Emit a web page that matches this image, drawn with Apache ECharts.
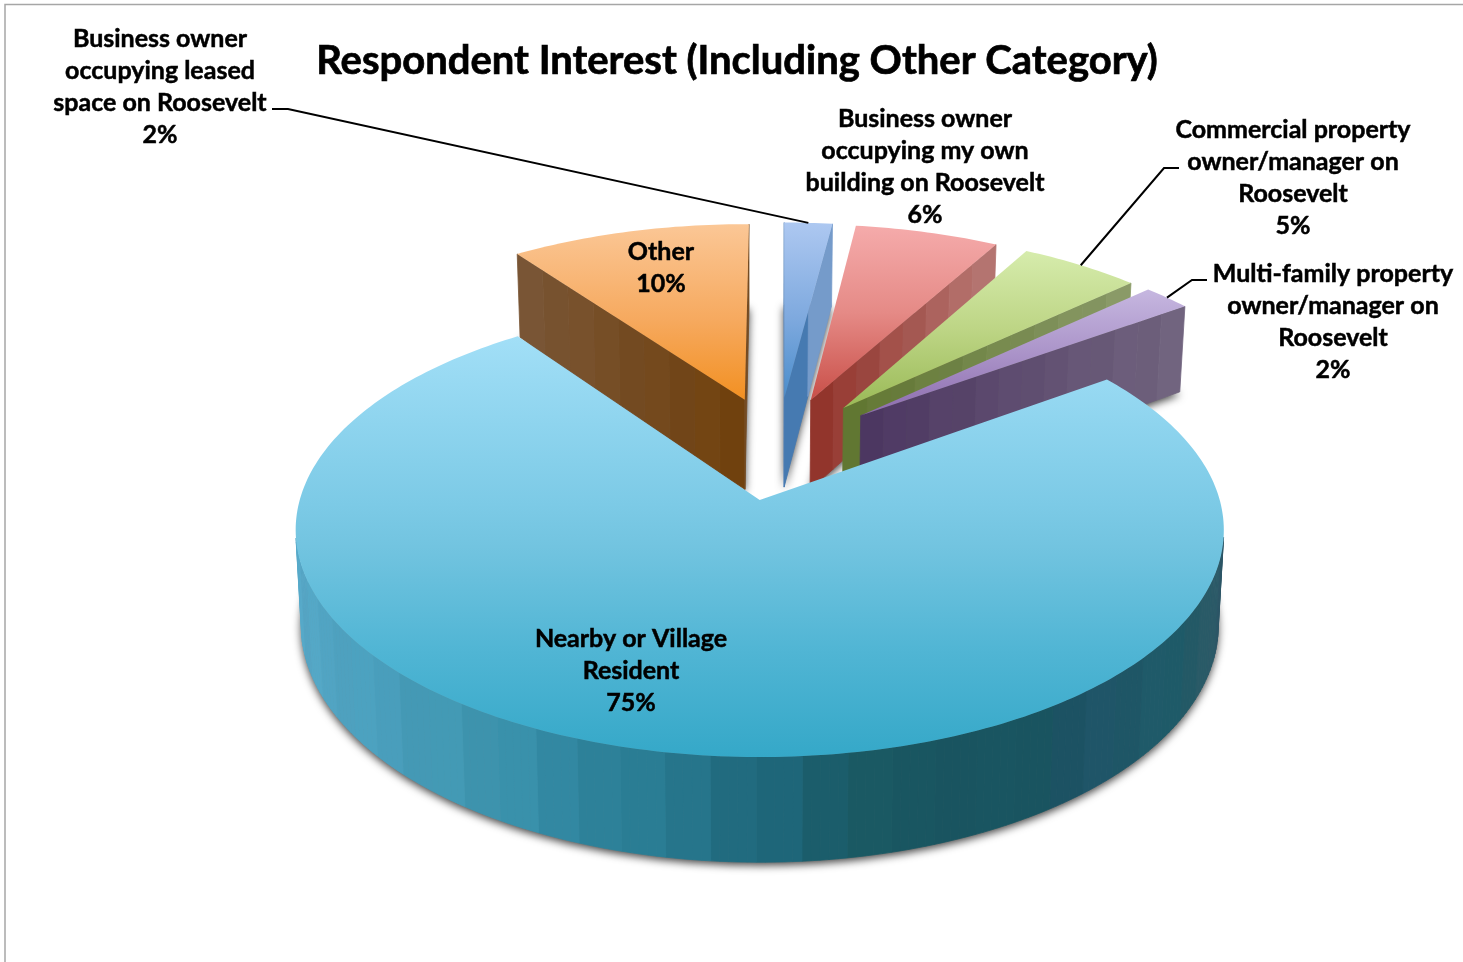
<!DOCTYPE html>
<html>
<head>
<meta charset="utf-8">
<title>Respondent Interest</title>
<style>html,body{margin:0;padding:0;background:#fff}#chart{width:1463px;height:962px}</style>
<script src="https://cdn.jsdelivr.net/npm/echarts@6/dist/echarts.min.js"></script>
</head>
<body>
<div id="chart"></div>
<script>
// Survey shares, listed clockwise from the "Other" wedge, which also gives back-to-front paint order.
const chartTitle = 'Respondent Interest (Including Other Category)';
const categories = [
  'Other',
  'Business owner\noccupying leased\nspace on Roosevelt',
  'Business owner\noccupying my own\nbuilding on Roosevelt',
  'Commercial property\nowner/manager on\nRoosevelt',
  'Multi-family property\nowner/manager on\nRoosevelt',
  'Nearby or Village\nResident'
];
const shares = [10, 2, 6, 5, 2, 75];

// Pie geometry: first wedge angle (clockwise from 12 o'clock) and perspective projection.
const FIRST_ANGLE = -35.6, EXPLODE = 0.2466, HUB_U = 0.044, HUB_V = -0.243;
const CX = 758, CY = 500, RX = 460, RY = 223, PERSP = 0.132, DEPTH = 94, SHRINK = 0.012;

// Face colours for each wedge.
const topStops = [
  [[0, '#fbc796'], [0.55, '#f6a95e'], [1, '#f29022']],
  [[0, '#adc8f1'], [0.55, '#7ea9de'], [1, '#4a8dcb']],
  [[0, '#f5abab'], [0.5, '#e58a86'], [1, '#c94f48']],
  [[0, '#d6ecac'], [0.5, '#bdd585'], [1, '#9aba57']],
  [[0, '#c6b7e0'], [0.5, '#ab94c9'], [1, '#8c6cae']],
  [[0, '#a2dff7'], [0.4, '#7ccae6'], [0.5, '#72c4e0'], [0.75, '#50b5d4'], [1, '#35a8c8']]
];
const wallNear = ['#6f400c', '#2f6aa6', '#8f3027', '#5f7530', '#4b3560', '#1c6477'];
const wallFar = ['#7a5637', '#8aa8d2', '#b87a76', '#8a9a68', '#72657f', '#1c6477'];
const rimStops = [
  [-1, '#57a9c8'], [-0.77, '#4a9fbd'], [-0.55, '#3f96b0'], [-0.34, '#2f859e'],
  [-0.12, '#257489'], [0.03, '#1e6679'], [0.12, '#1b5f6e'], [0.2, '#1a5862'], [0.52, '#18535f'],
  [0.66, '#1f5467'], [0.84, '#1e5a68'], [0.93, '#295966'], [1, '#2f5768']
];
const bandTone = [0, 0.015, -0.01, 0.01, -0.015, 0.005, 0.012, -0.008];

// Label placement.
const labelFont = 'Lato, Carlito, sans-serif';
const labelSpots = [[661, 268], [160, 87], [925, 167], [1293, 178], [1333, 322], [631, 671]];
const leaderElbows = [
  null,
  [[272, 109], [288, 109]],
  null,
  [[1179, 168], [1164, 168]],
  [[1207, 280], [1192, 280]],
  null
];

const total = shares.reduce((a, b) => a + b, 0);
const wedges = [];
shares.reduce((start, value) => {
  const end = start + value / total * 360;
  wedges.push({ start, end, mid: (start + end) / 2 });
  return end;
}, FIRST_ANGLE);

const rad = d => d * Math.PI / 180;

function project(u, v, z) {
  const w = 1 / (1 - PERSP * v), s = 1 - z * SHRINK;
  return [CX + RX * u * w * s, CY + RY * v * w * s + DEPTH * w * z];
}
function hubOf(wedge) {
  return [HUB_U + EXPLODE * Math.sin(rad(wedge.mid)), HUB_V - EXPLODE * Math.cos(rad(wedge.mid))];
}
function rimPoint(hub, deg, z) {
  return project(hub[0] + Math.sin(rad(deg)), hub[1] - Math.cos(rad(deg)), z);
}
function faceOutline(wedge, z) {
  const hub = hubOf(wedge), pts = [project(hub[0], hub[1], z)];
  const steps = Math.max(2, Math.ceil(wedge.end - wedge.start));
  for (let i = 0; i <= steps; i++) {
    pts.push(rimPoint(hub, wedge.start + (wedge.end - wedge.start) * i / steps, z));
  }
  return pts;
}
function signedArea(p) {
  let a = 0;
  p.forEach((q, i) => { const n = p[(i + 1) % p.length]; a += q[0] * n[1] - n[0] * q[1]; });
  return a;
}
function hexRgb(h) {
  return [1, 3, 5].map(i => parseInt(h.substr(i, 2), 16));
}
function mix(a, b, t, tone) {
  const A = hexRgb(a), B = hexRgb(b);
  const ch = A.map((c, i) => Math.max(0, Math.min(255, Math.round((c + (B[i] - c) * t) * (1 + tone)))));
  return 'rgb(' + ch.join(',') + ')';
}
function rimColor(u, tone) {
  for (let i = 1; i < rimStops.length; i++) {
    if (u <= rimStops[i][0]) {
      const a = rimStops[i - 1], b = rimStops[i];
      return mix(a[1], b[1], (u - a[0]) / (b[0] - a[0]), tone);
    }
  }
  return mix(rimStops[rimStops.length - 1][1], rimStops[rimStops.length - 1][1], 0, tone);
}
function quad(points, color) {
  return {
    type: 'polygon',
    shape: { points },
    style: { fill: color, stroke: color, lineWidth: 0.8 }
  };
}

// A cut face running from the hub out to the rim, split into vertical bands.
function cutFace(index, deg, wantPositive) {
  const wedge = wedges[index], hub = hubOf(wedge);
  const a0 = project(hub[0], hub[1], 0), a1 = project(hub[0], hub[1], 1);
  const b0 = rimPoint(hub, deg, 0), b1 = rimPoint(hub, deg, 1);
  const area = signedArea([a0, b0, b1, a1]);
  if (wantPositive ? area <= 0 : area >= 0) return [];
  const lerp = (p, q, t) => [p[0] + (q[0] - p[0]) * t, p[1] + (q[1] - p[1]) * t];
  const n = Math.max(1, Math.round(Math.abs(b0[0] - a0[0]) / 24));
  const out = [];
  for (let i = 0; i < n; i++) {
    const t0 = i / n, t1 = (i + 1) / n;
    out.push(quad(
      [lerp(a0, b0, t0), lerp(a0, b0, t1), lerp(a1, b1, t1), lerp(a1, b1, t0)],
      mix(wallNear[index], wallFar[index], (t0 + t1) / 2, bandTone[i % bandTone.length])
    ));
  }
  return out;
}

// Curved outer wall, built from one-degree strips coloured by band.
function outerWall(index) {
  const wedge = wedges[index], hub = hubOf(wedge), out = [];
  for (let d = wedge.start; d < wedge.end - 1e-6; d += 1) {
    const e = Math.min(d + 1, wedge.end);
    const pts = [rimPoint(hub, d, 0), rimPoint(hub, e, 0), rimPoint(hub, e, 1), rimPoint(hub, d, 1)];
    if (signedArea(pts) >= 0) continue;
    const band = Math.floor(d / 5);
    const bandMid = (band + 0.5) * 5;
    out.push(quad(pts, rimColor(Math.sin(rad(bandMid)), bandTone[band % bandTone.length])));
  }
  return out;
}

function percentText(value) {
  return Math.round(value / total * 100) + '%';
}

function renderShadow(params) {
  const wedge = wedges[params.dataIndex];
  return {
    type: 'polygon',
    shape: { points: faceOutline(wedge, 1) },
    style: {
      fill: '#8a8a8a',
      shadowBlur: 9,
      shadowColor: 'rgba(0,0,0,0.75)',
      shadowOffsetX: 0,
      shadowOffsetY: 3
    },
    silent: true
  };
}

function renderWedge(params, api) {
  const i = params.dataIndex, wedge = wedges[i], hub = hubOf(wedge);
  const children = []
    .concat(cutFace(i, wedge.start, false))
    .concat(cutFace(i, wedge.end, true))
    .concat(outerWall(i));
  children.push({
    type: 'polygon',
    shape: { points: faceOutline(wedge, 0) },
    style: {
      fill: new echarts.graphic.LinearGradient(0, 0, 0, 1,
        topStops[i].map(s => ({ offset: s[0], color: s[1] })))
    }
  });
  if (leaderElbows[i]) {
    children.push({
      type: 'polyline',
      shape: { points: leaderElbows[i].concat([rimPoint(hub, wedge.mid, 0)]) },
      style: { fill: null, stroke: '#000', lineWidth: 2 }
    });
  }
  children.push({
    type: 'text',
    style: {
      text: categories[i] + '\n' + percentText(api.value(0)),
      x: labelSpots[i][0],
      y: labelSpots[i][1],
      align: 'center',
      verticalAlign: 'middle',
      lineHeight: 32,
      fill: '#000',
      stroke: '#000',
      lineWidth: 0.5,
      fontFamily: labelFont,
      fontWeight: 'bold',
      fontSize: 25
    }
  });
  return { type: 'group', children };
}

const chart = echarts.init(document.getElementById('chart'), null, { renderer: 'canvas' });
chart.setOption({
  animation: false,
  backgroundColor: '#fff',
  title: {
    text: chartTitle,
    left: 732,
    top: 36,
    textAlign: 'center',
    textStyle: {
      fontFamily: labelFont,
      fontWeight: 'bold',
      fontSize: 40,
      color: '#000',
      textBorderColor: '#000',
      textBorderWidth: 0.7
    }
  },
  graphic: [{
    type: 'rect',
    shape: { x: 5, y: 4.5, width: 1600, height: 1100 },
    style: { fill: null, stroke: '#a6a6a6', lineWidth: 1.5 },
    silent: true
  }],
  series: [
    {
      type: 'custom',
      coordinateSystem: 'none',
      silent: true,
      z: 1,
      data: shares,
      renderItem: renderShadow
    },
    {
      type: 'custom',
      coordinateSystem: 'none',
      z: 2,
      data: shares,
      renderItem: renderWedge
    }
  ]
});
</script>
</body>
</html>
